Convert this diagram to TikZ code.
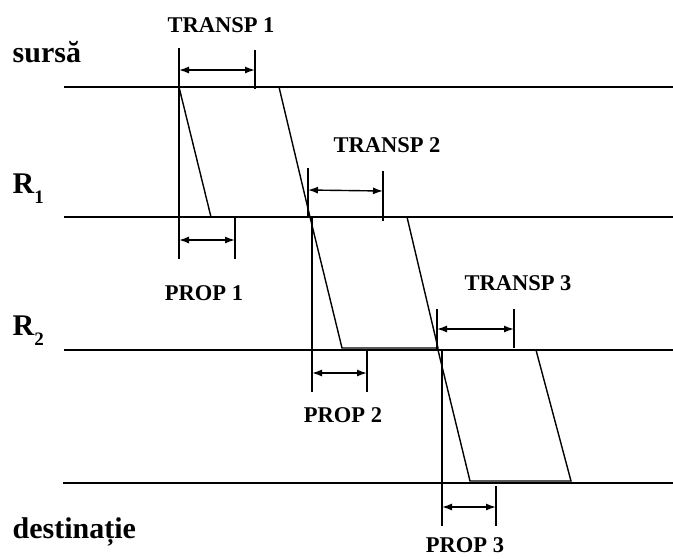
\documentclass[tikz,border=0pt]{standalone}
\usepackage{fontspec}
\setmainfont{Liberation Serif}
\usetikzlibrary{arrows.meta}

\begin{document}
\begin{tikzpicture}[x=1pt, y=-1pt, line width=1.4pt,
  lbl/.style={font=\fontsize{22.5}{24}\selectfont\bfseries, anchor=base, inner sep=0pt},
  side/.style={font=\fontsize{30}{32}\selectfont\bfseries, anchor=base west, inner sep=0pt},
  dim/.style={{Latex[length=10pt,width=7pt]}-{Latex[length=10pt,width=7pt]}}]
\useasboundingbox (0,0) rectangle (673,558);
% linii de timp
\node[side] (sursa) at (12,62) {sursă};
\node[side] (rone) at (12,193) {R\raisebox{-10pt}{\fontsize{19}{20}\selectfont 1}};
\node[side] (rtwo) at (12,335) {R\raisebox{-10pt}{\fontsize{19}{20}\selectfont 2}};
\node[side] (dest) at (12,538) {destinație};
\draw (64,87) -- (673,87);
\draw (64,217) -- (673,217);
\draw (64,350) -- (673,350);
\draw (63,483) -- (673,483);
% pachete
\draw (179,87) -- (211,217) -- (310,217) -- (279,87);
\draw (310,217) -- (342,348) -- (438,348) -- (407,217);
\draw (438,350) -- (470,481) -- (571,481) -- (536,350);
% sursa -> R1
\draw (179,48) -- (179,259);
\draw (255,50) -- (255,89);
\draw[dim] (179,70) -- (255,70);
\node[lbl] (transpone) at (221,32) {TRANSP 1};
\draw (235,217) -- (235,259);
\draw[dim] (179,240) -- (235,240);
\node[lbl] (propone) at (204,300) {PROP 1};
% R1 -> R2
\draw (308,168) -- (308,217);
\draw (383,171) -- (383,221);
\draw[dim] (308,190) -- (383,191);
\node[lbl] (transptwo) at (387,152) {TRANSP 2};
\draw (312,217) -- (312,392);
\draw (367,350) -- (367,392);
\draw[dim] (312,373) -- (367,373);
\node[lbl] (proptwo) at (343,422) {PROP 2};
% R2 -> destinatie
\draw (437,309) -- (437,350);
\draw (514,309) -- (514,348);
\draw[dim] (437,329) -- (514,329);
\node[lbl] (transpthree) at (518,290) {TRANSP 3};
\draw (442,350) -- (442,526);
\draw (496,486) -- (496,526);
\draw[dim] (442,507) -- (496,507);
\node[lbl] (propthree) at (465,552) {PROP 3};
\end{tikzpicture}
\end{document}
